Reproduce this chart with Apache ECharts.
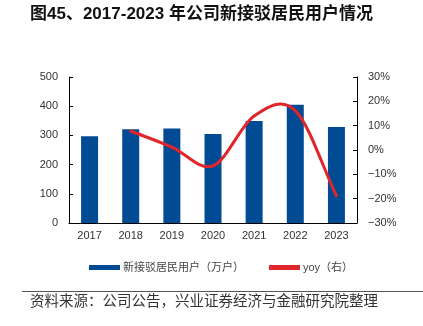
<!DOCTYPE html>
<html>
<head>
<meta charset="utf-8">
<script src="https://cdn.jsdelivr.net/npm/echarts@6/dist/echarts.min.js"></script>
<style>
  html, body { margin: 0; padding: 0; background: #fff; }
  #chart { width: 423px; height: 326px; }
</style>
</head>
<body>
<div id="chart"></div>
<script>
// Years on the category axis
const years = ['2017', '2018', '2019', '2020', '2021', '2022', '2023'];
// Newly connected residential users, 10k households
const newUsers = [297, 321, 324, 305, 349, 405, 329];
// Year-over-year growth, % (no value for the first year)
const yoy = [null, 7.8, 1.2, -6.5, 14.0, 16.2, -18.8];
// Axis tick settings
const leftTicks = { min: 0, max: 500, interval: 100 };
const rightTicks = { min: -30, max: 30, interval: 10 };

const FONT = '"Liberation Sans", "Noto Sans CJK SC", sans-serif';
const BLUE = '#004B94';
const RED = '#E1262B';

// Indices of years that have a growth value
const yoyIdx = yoy.map((v, i) => (v == null ? -1 : i)).filter(i => i >= 0);

// Cardinal (Catmull-Rom) spline: each data item draws the segment to the next point
function renderYoy(params, api) {
  const k = params.dataIndex;
  if (k >= yoyIdx.length - 1) return null;
  const pt = j => api.coord([yoyIdx[j], yoy[yoyIdx[j]]]);
  const p0 = pt(k), p1 = pt(k + 1);
  const tangent = j => {
    const a = pt(Math.max(j - 1, 0));
    const b = pt(Math.min(j + 1, yoyIdx.length - 1));
    const span = Math.min(j + 1, yoyIdx.length - 1) - Math.max(j - 1, 0);
    return [(b[0] - a[0]) / span, (b[1] - a[1]) / span];
  };
  const m0 = tangent(k), m1 = tangent(k + 1);
  return {
    type: 'bezierCurve',
    shape: {
      x1: p0[0], y1: p0[1],
      x2: p1[0], y2: p1[1],
      cpx1: p0[0] + m0[0] / 3, cpy1: p0[1] + m0[1] / 3,
      cpx2: p1[0] - m1[0] / 3, cpy2: p1[1] - m1[1] / 3
    },
    style: { stroke: RED, lineWidth: 3, fill: null, lineCap: 'round' }
  };
}

const chart = echarts.init(document.getElementById('chart'), null, { renderer: 'canvas' });
chart.setOption({
  animation: false,
  backgroundColor: '#fff',
  textStyle: { fontFamily: FONT },
  grid: { left: 69, right: 66, top: 77, bottom: 103, containLabel: false },
  legend: {
    left: 84,
    top: 257,
    itemGap: 25,
    itemWidth: 31,
    itemHeight: 5,
    textStyle: { fontSize: 11, color: '#444', fontFamily: FONT, padding: [0, 0, 0, -2] },
    data: [
      { name: '新接驳居民用户（万户）', icon: 'rect', itemStyle: { color: BLUE } },
      { name: 'yoy（右）', icon: 'rect', itemStyle: { color: RED } }
    ]
  },
  xAxis: {
    type: 'category',
    data: years,
    axisLine: { lineStyle: { color: '#000', width: 1 } },
    axisTick: { show: false },
    axisLabel: { color: '#333', fontSize: 11, margin: 7, fontFamily: FONT }
  },
  yAxis: [
    {
      type: 'value',
      min: leftTicks.min, max: leftTicks.max, interval: leftTicks.interval,
      splitLine: { show: false },
      axisLine: { show: true, lineStyle: { color: '#000', width: 1 } },
      axisTick: { show: true, inside: true, length: 4, lineStyle: { color: '#000' } },
      axisLabel: { color: '#333', fontSize: 11, margin: 11, fontFamily: FONT }
    },
    {
      type: 'value',
      position: 'right',
      min: rightTicks.min, max: rightTicks.max, interval: rightTicks.interval,
      splitLine: { show: false },
      axisLine: { show: true, lineStyle: { color: '#000', width: 1 } },
      axisTick: { show: true, inside: true, length: 4, lineStyle: { color: '#000' } },
      axisLabel: {
        color: '#333', fontSize: 11, margin: 11, fontFamily: FONT,
        formatter: v => (v < 0 ? '\u2212' + Math.abs(v) : v) + '%'
      }
    }
  ],
  series: [
    {
      name: '新接驳居民用户（万户）',
      type: 'bar',
      data: newUsers,
      yAxisIndex: 0,
      barWidth: 17,
      itemStyle: { color: BLUE }
    },
    {
      name: 'yoy（右）',
      type: 'custom',
      yAxisIndex: 1,
      renderItem: renderYoy,
      data: yoyIdx.map(i => [i, yoy[i]]),
      encode: { x: 0, y: 1 },
      itemStyle: { color: RED },
      z: 3
    }
  ],
  graphic: [
    {
      type: 'text', left: 30, top: 6,
      style: {
        text: '图45、2017-2023 年公司新接驳居民用户情况',
        font: 'bold 17px "Liberation Sans", "Noto Sans CJK SC", sans-serif',
        fill: '#111'
      }
    },
    {
      type: 'line',
      shape: { x1: 22, y1: 291.5, x2: 423, y2: 291.5 },
      style: { stroke: '#555', lineWidth: 1 }
    },
    {
      type: 'text', left: 30, top: 293,
      style: {
        text: '资料来源：公司公告，兴业证券经济与金融研究院整理',
        font: '14.5px "Noto Sans CJK SC", sans-serif',
        fill: '#333'
      }
    }
  ]
});
</script>
</body>
</html>
